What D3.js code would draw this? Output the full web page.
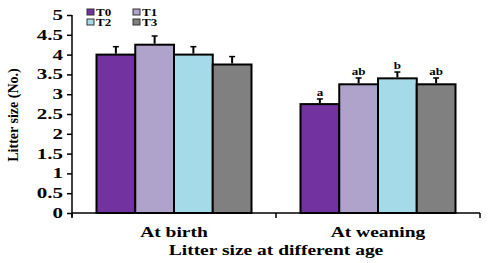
<!DOCTYPE html>
<html>
<head>
<meta charset="utf-8">
<script src="https://cdn.jsdelivr.net/npm/d3@7"></script>
<style>
  body { margin: 0; background: #fff; }
  text { font-family: "Liberation Serif", "DejaVu Serif", serif; font-weight: bold; }
</style>
</head>
<body>
<svg id="chart" width="490" height="263"></svg>
<script>
const ages = ["At birth", "At weaning"];
const groups = ["T0", "T1", "T2", "T3"];
const means = {
    "At birth": [4, 4.25, 4, 3.75],
    "At weaning": [2.75, 3.25, 3.4, 3.25]
};
const errors = {
    "At birth": [0.2, 0.22, 0.2, 0.2],
    "At weaning": [0.13, 0.16, 0.16, 0.16]
};
const letters = {
    "At birth": ["", "", "", ""],
    "At weaning": ["a", "ab", "b", "ab"]
};
const yTicks = [0, 0.5, 1, 1.5, 2, 2.5, 3, 3.5, 4, 4.5, 5];
const colors = ["#7233a0", "#b0a3cb", "#a5dbe9", "#808080"];

const svg = d3.select("#chart");
const margin = { top: 15, right: 10, bottom: 50, left: 72 };
const width = 490 - margin.left - margin.right;
const height = 263 - margin.top - margin.bottom;
const stretch = 1.3; // text in the original is wide

const g = svg.append("g")
    .attr("transform", `translate(${margin.left},${margin.top})`);

const x0 = d3.scaleBand().domain(ages).range([0, width]);
const x1 = d3.scaleBand().domain(groups).range([0, 155]);
const y = d3.scaleLinear().domain([0, 5]).range([height, 0]);

const rows = [];
ages.forEach(a => groups.forEach((t, i) => {
    rows.push({ age: a, grp: t, i: i, v: means[a][i], e: errors[a][i], l: letters[a][i] });
}));

const xPos = d => x0(d.age) + (x0.bandwidth() - 155) / 2 + x1(d.grp);
const xMid = d => xPos(d) + x1.bandwidth() / 2;

// wide text helper
function wideText(sel, x, yy, size, sx, anchor) {
    return sel.append("text")
        .attr("transform", `translate(${x},${yy}) scale(${sx},1)`)
        .attr("text-anchor", anchor || "middle")
        .style("font-size", size + "px");
}

// bars
g.selectAll(".bar")
    .data(rows)
    .enter()
    .append("rect")
    .attr("class", "bar")
    .attr("x", d => xPos(d))
    .attr("y", d => y(d.v))
    .attr("width", x1.bandwidth())
    .attr("height", d => y(0) - y(d.v))
    .style("fill", d => colors[d.i])
    .style("stroke", "#000")
    .style("stroke-width", 2);

// error bars (upper only)
g.selectAll(".err")
    .data(rows)
    .enter()
    .append("line")
    .attr("x1", xMid).attr("x2", xMid)
    .attr("y1", d => y(d.v) - 1)
    .attr("y2", d => y(d.v + d.e))
    .style("stroke", "#000")
    .style("stroke-width", 2);

g.selectAll(".cap")
    .data(rows)
    .enter()
    .append("line")
    .attr("x1", d => xMid(d) - 3)
    .attr("x2", d => xMid(d) + 3)
    .attr("y1", d => y(d.v + d.e))
    .attr("y2", d => y(d.v + d.e))
    .style("stroke", "#000")
    .style("stroke-width", 1.5);

// significance letters
rows.filter(d => d.l).forEach(d => {
    wideText(g, xMid(d), y(d.v + d.e) - 3, 10, 1.3).text(d.l);
});

// axes
const yAxis = d3.axisLeft(y).tickValues(yTicks).tickSize(5).tickFormat(d3.format("~g"));
const yg = g.append("g").call(yAxis);
yg.select(".domain").attr("d", `M0,${height + 4}V0`).style("stroke-width", 1.5);
yg.selectAll(".tick line").style("stroke-width", 1.5);
yg.selectAll(".tick text").remove();
yTicks.forEach(t => {
    wideText(g, -9, y(t) + 5, 15, 1.4, "end").text(d3.format("~g")(t));
});

const xAxis = d3.axisBottom(x0).tickSize(0).tickFormat("");
const xg = g.append("g").attr("transform", `translate(0,${height})`).call(xAxis);
xg.select(".domain").attr("d", `M0,0H${width}`).style("stroke-width", 1.5);
xg.selectAll(".bound")
    .data([0, x0.step(), width])
    .enter()
    .append("line")
    .attr("x1", d => d).attr("x2", d => d)
    .attr("y1", 0).attr("y2", 5)
    .style("stroke", "#000")
    .style("stroke-width", 1.5);
ages.forEach(a => {
    wideText(g, x0(a) + x0.bandwidth() / 2, height + 24, 15, stretch).text(a);
});

// axis titles
wideText(svg, 276, 255, 15, stretch).text("Litter size at different age");

svg.append("text")
    .attr("transform", `translate(18,${margin.top + height / 2 + 1}) rotate(-90)`)
    .attr("text-anchor", "middle")
    .style("font-size", "14px")
    .text("Litter size (No.)");

// legend
const legend = svg.append("g").attr("transform", "translate(87,9)");
const li = legend.selectAll(".leg")
    .data(groups)
    .enter()
    .append("g")
    .attr("transform", (d, i) => `translate(${(i % 2) * 46},${Math.floor(i / 2) * 10})`);
li.append("rect")
    .attr("width", 7).attr("height", 6)
    .style("fill", (d, i) => colors[i])
    .style("stroke", "#333")
    .style("stroke-width", 1);
li.append("text")
    .attr("transform", "translate(9,7) scale(1.3,1)")
    .style("font-size", "10px")
    .text(d => d);
</script>
</body>
</html>
